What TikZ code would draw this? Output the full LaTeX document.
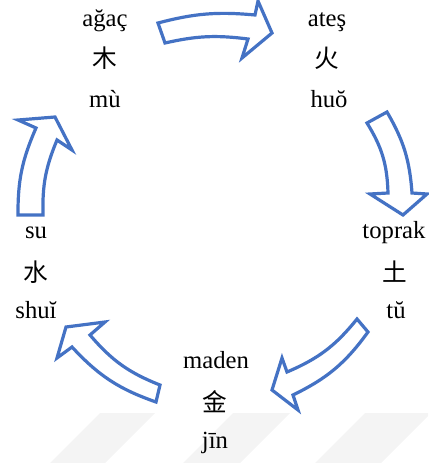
\documentclass[tikz,border=0pt]{standalone}
\usepackage{fontspec}
\setmainfont{Liberation Serif}
\newfontfamily\cjk{Noto Sans CJK SC}
\definecolor{arrowblue}{RGB}{68,114,196}
\definecolor{wmgray}{RGB}{244,244,244}
\begin{document}
\begin{tikzpicture}[x=0.75pt,y=-0.75pt,
  blockarrow/.style={draw=arrowblue, line width=2.4pt, fill=white, line join=miter},
  word/.style={font=\fontsize{18.5}{18.5}\selectfont, anchor=base, inner sep=0pt},
  glyph/.style={font=\cjk\fontsize{18.5}{18.5}\selectfont, anchor=center, inner sep=0pt},
  wm/.style={fill=wmgray, draw=none}]
\useasboundingbox (0,0) rectangle (428,463);
% faint watermark stripes
\fill[wm] (100,413) -- (155,413) -- (105,463) -- (50,463) -- cycle;
\fill[wm] (233,413) -- (290,413) -- (240,463) -- (183,463) -- cycle;
\fill[wm] (365,413) -- (428,413) -- (428,416) -- (381,463) -- (315,463) -- cycle;
% texts
\node[word] (w1) at (105,27) {ağaç};
\node[glyph] (w2) at (105,58) {木};
\node[word] (w3) at (105,108) {mù};
\node[word] (f1) at (327,27) {ateş};
\node[glyph] (f2) at (327,58) {火};
\node[word] (f3) at (329,108) {huŏ};
\node[word] (e1) at (394,238) {toprak};
\node[glyph] (e2) at (395,272) {土};
\node[word] (e3) at (396,318) {tŭ};
\node[word] (m1) at (216,368) {maden};
\node[glyph] (m2) at (215,402) {金};
\node[word] (m3) at (215,448) {jīn};
\node[word] (s1) at (36,238) {su};
\node[glyph] (s2) at (36,272) {水};
\node[word] (s3) at (36,318) {shuĭ};
% block arrows
\draw[blockarrow] (158,23) to[bend left=10] (255,15) -- (258,1) -- (272,33) -- (242,58) -- (248,39) to[bend right=10] (165,43) -- cycle;
\draw[blockarrow] (367,123) -- (387,112) to[bend left=13] (412,193) -- (427,194) -- (403,215) -- (370,194) -- (388,193) to[bend right=15] (367,123) -- cycle;
\draw[blockarrow] (357,319) -- (368,332) to[bend left=14] (293,395) -- (298,410) -- (272,390) -- (282,358) -- (287,372) to[bend right=14] (357,319) -- cycle;
\draw[blockarrow] (160,385) to[bend left=14] (90,335) -- (105,322) -- (66,327) -- (57,358) -- (72,347) to[bend right=14] (156,402) -- cycle;
\draw[blockarrow] (18,215) -- (43,215) to[bend left=12] (57,140) -- (72,150) -- (55,117) -- (18,120) -- (36,128) to[bend right=12] (18,215) -- cycle;
\end{tikzpicture}
\end{document}
